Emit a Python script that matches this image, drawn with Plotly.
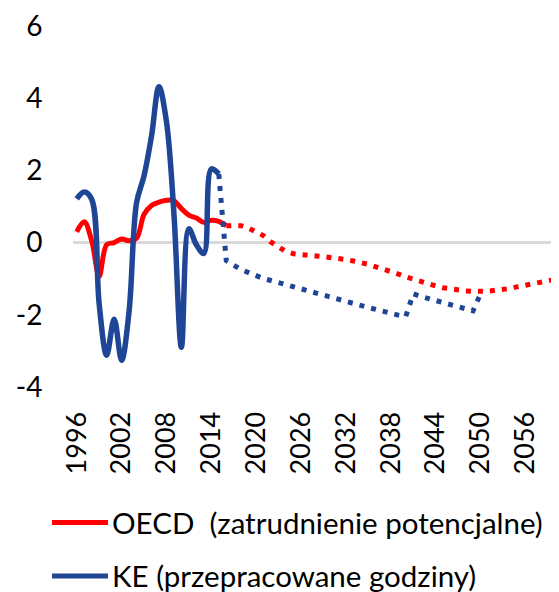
import plotly.graph_objects as go

# ---- data ----
oecd_actual_years = list(range(1996, 2017))
oecd_actual = [0.30, 0.58, 0.05, -0.93, -0.06, 0.00, 0.10, 0.05, 0.12, 0.78,
               1.03, 1.12, 1.17, 1.16, 0.94, 0.76, 0.68, 0.56, 0.62, 0.59, 0.47]

oecd_proj_years = list(range(2016, 2061))
oecd_proj = [0.47, 0.48, 0.47, 0.40, 0.30, 0.19, 0.01, -0.14, -0.25, -0.31,
             -0.34, -0.36, -0.37, -0.39, -0.41, -0.44, -0.47, -0.51, -0.55, -0.60,
             -0.67, -0.73, -0.80, -0.87, -0.95, -1.02, -1.08, -1.14, -1.20, -1.25,
             -1.29, -1.32, -1.34, -1.35, -1.36, -1.35, -1.32, -1.30, -1.27, -1.22,
             -1.18, -1.13, -1.09, -1.06, -1.02]

ke_actual_years = list(range(1996, 2016))
ke_actual = [1.21, 1.40, 1.20, -1.70, -3.12, -2.12, -3.26, -1.90, 1.10, 1.85,
             2.95, 4.32, 3.35, 0.80, -2.90, 0.38, -0.06, -0.30, 2.04, 1.90]

ke_proj_years = list(range(2015, 2051))
ke_proj = [1.90, -0.50, -0.63, -0.75, -0.83, -0.92, -1.00, -1.05, -1.11, -1.17,
           -1.23, -1.29, -1.34, -1.40, -1.45, -1.51, -1.57, -1.63, -1.69, -1.74,
           -1.80, -1.85, -1.91, -1.96, -2.01, -2.05, -1.42, -1.49, -1.55, -1.61,
           -1.66, -1.72, -1.78, -1.84, -1.89, -1.42]

x_tick_vals = [1996, 2002, 2008, 2014, 2020, 2026, 2032, 2038, 2044, 2050, 2056]
y_tick_vals = [-4, -2, 0, 2, 4, 6]
y_tick_text = ["-4", "-2", "0", "2", "4", "6"]

legend_names = ["OECD\u00a0 (zatrudnienie potencjalne)", "KE (przepracowane godziny)"]

RED = "#FF0000"
BLUE = "#1F4696"
FONT = "Lato"

fig = go.Figure()
fig.add_trace(go.Scatter(x=oecd_actual_years, y=oecd_actual, mode="lines",
                         line=dict(color=RED, width=5, shape="spline", smoothing=1),
                         showlegend=False, name=legend_names[0]))
fig.add_trace(go.Scatter(x=oecd_proj_years, y=oecd_proj, mode="lines",
                         line=dict(color=RED, width=5, dash="5px,7px"),
                         showlegend=False))
fig.add_trace(go.Scatter(x=ke_actual_years, y=ke_actual, mode="lines",
                         line=dict(color=BLUE, width=5.5, shape="spline", smoothing=1),
                         showlegend=False, name=legend_names[1]))
fig.add_trace(go.Scatter(x=ke_proj_years, y=ke_proj, mode="lines",
                         line=dict(color=BLUE, width=5, dash="5px,7px"),
                         showlegend=False))

# The page body has an 8px default margin: the figure starts at (8, 8)
OFF = 8
W, H = 559 - OFF, 592 - OFF
ml, mr, mt, mb = 73 - OFF, 0, 22 - OFF, 205
pw, ph = W - ml - mr, H - mt - mb


def px2paper_x(px):
    return (px - OFF - ml) / pw


def px2paper_y(py):
    return (H - mb - (py - OFF)) / ph


legend_rows = [(legend_names[0], RED, 524), (legend_names[1], BLUE, 578)]
for name, col, ypx in legend_rows:
    fig.add_shape(type="line", xref="paper", yref="paper",
                  x0=px2paper_x(52), x1=px2paper_x(108),
                  y0=px2paper_y(ypx), y1=px2paper_y(ypx),
                  line=dict(color=col, width=5))
    fig.add_annotation(xref="paper", yref="paper", x=px2paper_x(110),
                       y=px2paper_y(ypx), text=name, showarrow=False,
                       xanchor="left", yanchor="middle",
                       font=dict(family=FONT, size=29.5, color="black"))

fig.update_layout(
    width=W, height=H, autosize=False,
    margin=dict(l=ml, r=mr, t=mt, b=mb, pad=0),
    paper_bgcolor="white", plot_bgcolor="white",
    font=dict(family=FONT, size=28, color="black"),
    showlegend=False,
)
fig.update_xaxes(range=[1995.5, 2060.5], tickmode="array",
                 tickvals=x_tick_vals, ticktext=[str(v) for v in x_tick_vals],
                 tickangle=-90, showgrid=False, zeroline=False, showline=False,
                 ticks="outside", ticklen=13, tickcolor="rgba(0,0,0,0)",
                 ticklabeloverflow="allow",
                 tickfont=dict(family=FONT, size=27, color="black"))
fig.update_yaxes(range=[-4, 6], tickmode="array", tickvals=y_tick_vals,
                 ticktext=y_tick_text,
                 showgrid=False, showline=False,
                 zeroline=True, zerolinecolor="#D9D9D9", zerolinewidth=3,
                 ticks="outside", ticklen=24, tickcolor="rgba(0,0,0,0)",
                 ticklabeloverflow="allow",
                 tickfont=dict(family=FONT, size=28, color="black"))

fig.write_html("out.html")
